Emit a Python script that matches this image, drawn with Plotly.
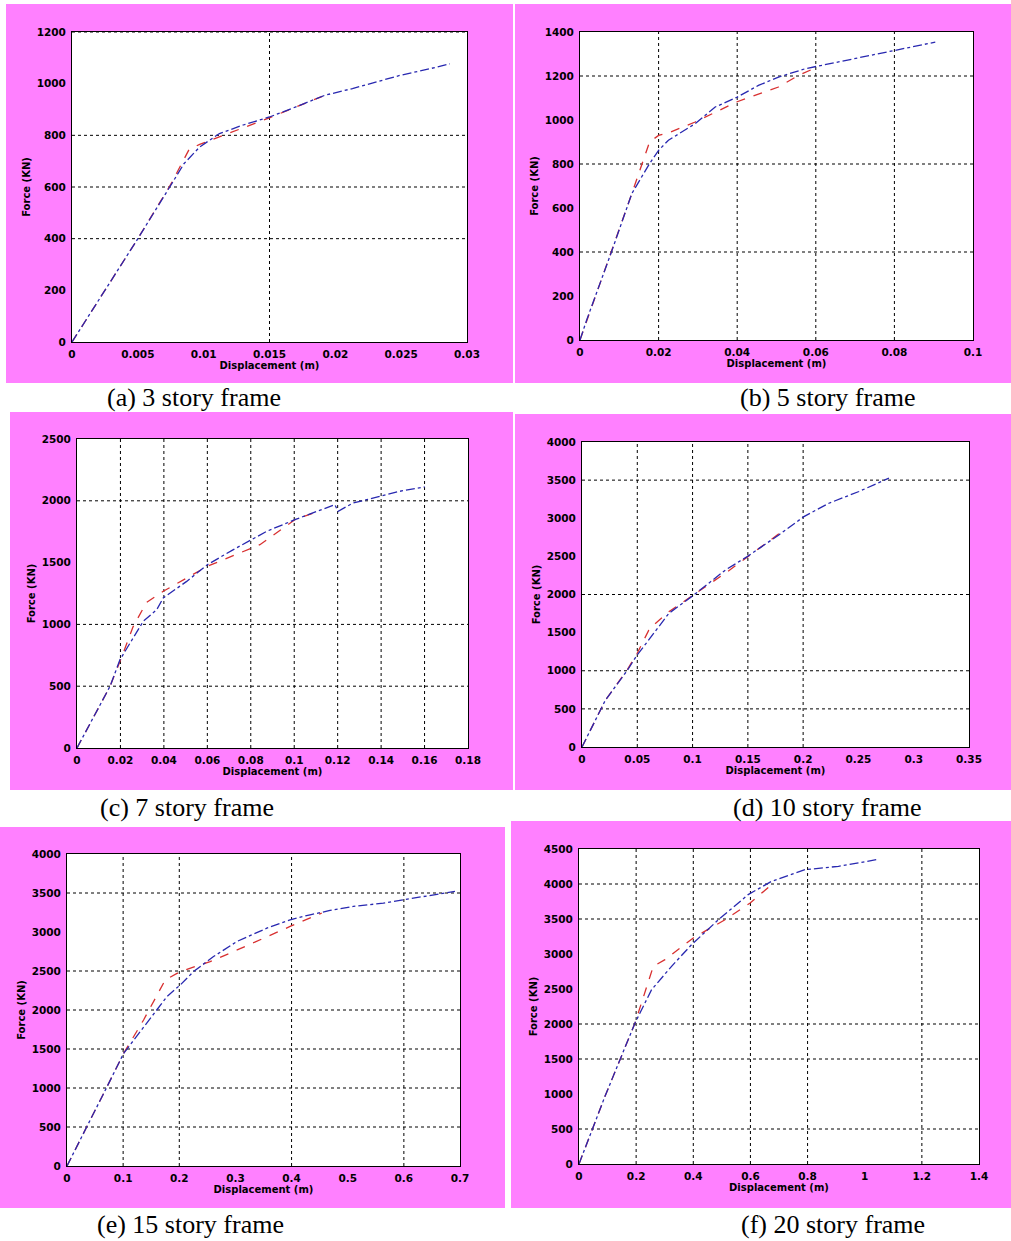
import plotly.graph_objects as go

W, H = 1011, 1241

# ---------------- DATA ----------------
captions = ["(a) 3 story frame", "(b) 5 story frame", "(c) 7 story frame",
            "(d) 10 story frame", "(e) 15 story frame", "(f) 20 story frame"]

# (a) 3 story
a_blue_x = [0, 0.0025, 0.005, 0.0074, 0.0085, 0.0097, 0.0112, 0.013, 0.015, 0.017, 0.0192, 0.0213, 0.0226, 0.0249, 0.0272, 0.0287]
a_blue_y = [0, 200, 400, 598, 690, 755, 807, 840, 871, 910, 955, 981, 1000, 1032, 1058, 1077]
a_red_x = [0, 0.0025, 0.005, 0.0075, 0.0089, 0.0097, 0.012, 0.015, 0.0192]
a_red_y = [0, 200, 400, 610, 746, 765, 810, 868, 955]
a_xticks = [0, 0.005, 0.01, 0.015, 0.02, 0.025, 0.03]
a_xlabels = ["0", "0.005", "0.01", "0.015", "0.02", "0.025", "0.03"]
a_yticks = [0, 200, 400, 600, 800, 1000, 1200]
a_gridx = [0.015]
a_gridy = [400, 600, 800, 1200]

# (b) 5 story
b_blue_x = [0, 0.0017, 0.008, 0.0132, 0.0177, 0.02, 0.0225, 0.0293, 0.0344, 0.04, 0.0454, 0.0505, 0.0573, 0.0675, 0.0794, 0.0904]
b_blue_y = [0, 91, 400, 666, 802, 862, 908, 983, 1059, 1104, 1157, 1195, 1233, 1271, 1316, 1354]
b_red_x = [0, 0.008, 0.0132, 0.0177, 0.02, 0.023, 0.0293, 0.04, 0.0505, 0.0556, 0.0603]
b_red_y = [0, 400, 666, 900, 930, 945, 991, 1083, 1150, 1203, 1240]
b_xticks = [0, 0.02, 0.04, 0.06, 0.08, 0.1]
b_xlabels = ["0", "0.02", "0.04", "0.06", "0.08", "0.1"]
b_yticks = [0, 200, 400, 600, 800, 1000, 1200, 1400]
b_gridx = [0.02, 0.04, 0.06, 0.08]
b_gridy = [400, 800, 1200]

# (c) 7 story
c_blue_x = [0, 0.0152, 0.0198, 0.0275, 0.0305, 0.0367, 0.0397, 0.0505, 0.06, 0.072, 0.0873, 0.1003, 0.1087, 0.1187, 0.1202, 0.1271, 0.1333, 0.1394, 0.1486, 0.1601]
c_blue_y = [0, 499, 715, 944, 1025, 1119, 1214, 1348, 1483, 1605, 1753, 1847, 1901, 1969, 1915, 1982, 2009, 2036, 2077, 2112]
c_red_x = [0, 0.0152, 0.0198, 0.0259, 0.032, 0.0397, 0.0505, 0.06, 0.0842, 0.1003, 0.1087]
c_red_y = [0, 499, 701, 984, 1178, 1268, 1375, 1470, 1645, 1847, 1901]
c_xticks = [0, 0.02, 0.04, 0.06, 0.08, 0.1, 0.12, 0.14, 0.16, 0.18]
c_xlabels = ["0", "0.02", "0.04", "0.06", "0.08", "0.1", "0.12", "0.14", "0.16", "0.18"]
c_yticks = [0, 500, 1000, 1500, 2000, 2500]
c_gridx = [0.02, 0.04, 0.06, 0.08, 0.1, 0.12, 0.14, 0.16]
c_gridy = [500, 1000, 2000]

# (d) 10 story
d_blue_x = [0, 0.0211, 0.0407, 0.0498, 0.0694, 0.0785, 0.1011, 0.1297, 0.1494, 0.178, 0.2007, 0.2233, 0.2505, 0.2776]
d_blue_y = [0, 613, 1000, 1204, 1577, 1752, 1993, 2321, 2497, 2781, 3022, 3197, 3351, 3526]
d_red_x = [0, 0.0211, 0.0407, 0.0498, 0.0604, 0.0664, 0.0785, 0.1011, 0.1297, 0.1494, 0.184]
d_red_y = [0, 613, 1007, 1226, 1533, 1621, 1774, 1993, 2280, 2490, 2860]
d_xticks = [0, 0.05, 0.1, 0.15, 0.2, 0.25, 0.3, 0.35]
d_xlabels = ["0", "0.05", "0.1", "0.15", "0.2", "0.25", "0.3", "0.35"]
d_yticks = [0, 500, 1000, 1500, 2000, 2500, 3000, 3500, 4000]
d_gridx = [0.05, 0.1, 0.15, 0.2]
d_gridy = [500, 1000, 2000, 3500]

# (e) 15 story
e_blue_x = [0, 0.0386, 0.0712, 0.1008, 0.1364, 0.1779, 0.2017, 0.2254, 0.261, 0.3025, 0.3559, 0.3974, 0.433, 0.4686, 0.51, 0.5635, 0.599, 0.6524, 0.691]
e_blue_y = [0, 544, 1015, 1443, 1786, 2171, 2321, 2493, 2685, 2878, 3049, 3156, 3221, 3276, 3328, 3370, 3413, 3478, 3520]
e_red_x = [0, 0.0386, 0.0712, 0.1008, 0.1364, 0.175, 0.2017, 0.255, 0.2966, 0.3974, 0.4537]
e_red_y = [0, 544, 1015, 1443, 1872, 2385, 2493, 2621, 2749, 3071, 3242]
e_xticks = [0, 0.1, 0.2, 0.3, 0.4, 0.5, 0.6, 0.7]
e_xlabels = ["0", "0.1", "0.2", "0.3", "0.4", "0.5", "0.6", "0.7"]
e_yticks = [0, 500, 1000, 1500, 2000, 2500, 3000, 3500, 4000]
e_gridx = [0.1, 0.2, 0.4, 0.6]
e_gridy = [500, 1000, 1500, 2000, 2500, 3500]

# (f) 20 story
f_blue_x = [0, 0.091, 0.196, 0.254, 0.324, 0.394, 0.488, 0.592, 0.674, 0.791, 0.908, 0.978, 1.042]
f_blue_y = [0, 967, 2014, 2490, 2824, 3133, 3490, 3848, 4038, 4205, 4252, 4300, 4348]
f_red_x = [0, 0.091, 0.196, 0.26, 0.301, 0.4, 0.511, 0.599, 0.674]
f_red_y = [0, 967, 2014, 2824, 2919, 3229, 3490, 3729, 3990]
f_xticks = [0, 0.2, 0.4, 0.6, 0.8, 1.0, 1.2, 1.4]
f_xlabels = ["0", "0.2", "0.4", "0.6", "0.8", "1", "1.2", "1.4"]
f_yticks = [0, 500, 1000, 1500, 2000, 2500, 3000, 3500, 4000, 4500]
f_gridx = [0.2, 0.4, 0.6, 0.8, 1.2]
f_gridy = [500, 1500, 2000, 3500, 4000]

panels = [
    dict(bx=a_blue_x, by=a_blue_y, rx=a_red_x, ry=a_red_y, xt=a_xticks, xl=a_xlabels, yt=a_yticks, gx=a_gridx, gy=a_gridy),
    dict(bx=b_blue_x, by=b_blue_y, rx=b_red_x, ry=b_red_y, xt=b_xticks, xl=b_xlabels, yt=b_yticks, gx=b_gridx, gy=b_gridy),
    dict(bx=c_blue_x, by=c_blue_y, rx=c_red_x, ry=c_red_y, xt=c_xticks, xl=c_xlabels, yt=c_yticks, gx=c_gridx, gy=c_gridy),
    dict(bx=d_blue_x, by=d_blue_y, rx=d_red_x, ry=d_red_y, xt=d_xticks, xl=d_xlabels, yt=d_yticks, gx=d_gridx, gy=d_gridy),
    dict(bx=e_blue_x, by=e_blue_y, rx=e_red_x, ry=e_red_y, xt=e_xticks, xl=e_xlabels, yt=e_yticks, gx=e_gridx, gy=e_gridy),
    dict(bx=f_blue_x, by=f_blue_y, rx=f_red_x, ry=f_red_y, xt=f_xticks, xl=f_xlabels, yt=f_yticks, gx=f_gridx, gy=f_gridy),
]

# ---------------- LAYOUT GEOMETRY (pixels) ----------------
plot_px = [(72, 467, 32, 342), (580, 973, 32, 340), (77, 468, 439, 748),
           (582, 969, 442, 747), (67, 460, 854, 1166), (579, 979, 849, 1164)]
pink_px = [(6, 513, 4, 383), (515, 1011, 4, 383), (10, 513, 412, 790),
           (515, 1011, 414, 790), (0, 505, 827, 1208), (511, 1011, 821, 1208)]
cap_px = [(194, 398), (827, 398), (187, 807), (827, 807), (190, 1224), (833, 1224)]

PINK = "#FF80FF"
RED = "#D83030"
BLUE = "#2828B0"
tickfont = dict(family="DejaVu Sans", size=10.5, color="black", weight="bold")
titlefont = dict(family="DejaVu Sans", size=10, color="black", weight="bold")

def px2paper_x(p):
    return p / W

def px2paper_y(p):
    return 1 - p / H

fig = go.Figure()
shapes = []
annotations = []
layout = {}

for i, (p, pp, pk, cp) in enumerate(zip(panels, plot_px, pink_px, cap_px)):
    n = i + 1
    xa = "x" if n == 1 else f"x{n}"
    ya = "y" if n == 1 else f"y{n}"
    xkey = "xaxis" if n == 1 else f"xaxis{n}"
    ykey = "yaxis" if n == 1 else f"yaxis{n}"

    fig.add_trace(go.Scatter(x=p["rx"], y=p["ry"], mode="lines", xaxis=xa, yaxis=ya,
                             line=dict(color=RED, width=1.3, dash="dash"), showlegend=False))
    fig.add_trace(go.Scatter(x=p["bx"], y=p["by"], mode="lines", xaxis=xa, yaxis=ya,
                             line=dict(color=BLUE, width=1.3, dash="dashdot"), showlegend=False))

    x0, x1, y0, y1 = pp
    layout[xkey] = dict(
        domain=[px2paper_x(x0), px2paper_x(x1)], anchor=ya,
        range=[p["xt"][0], p["xt"][-1]], tickvals=p["xt"], ticktext=p["xl"],
        showgrid=False, zeroline=False, showline=True, linecolor="black", linewidth=1,
        mirror=True, ticks="", tickfont=tickfont, automargin=False,
        ticklabelstandoff=2,
        title=dict(text="Displacement (m)", font=titlefont, standoff=3),
    )
    layout[ykey] = dict(
        domain=[px2paper_y(y1), px2paper_y(y0)], anchor=xa,
        range=[p["yt"][0], p["yt"][-1]], tickvals=p["yt"],
        ticktext=[str(v) for v in p["yt"]],
        showgrid=False, zeroline=False, showline=True, linecolor="black", linewidth=1,
        mirror=True, ticks="", tickfont=tickfont, automargin=False,
        ticklabelstandoff=3,
        title=dict(text="Force (KN)", font=titlefont, standoff=4),
    )

    # pink panel background
    shapes.append(dict(type="rect", xref="paper", yref="paper", layer="below",
                       x0=px2paper_x(pk[0]), x1=px2paper_x(pk[1]),
                       y0=px2paper_y(pk[3]), y1=px2paper_y(pk[2]),
                       fillcolor=PINK, line=dict(width=0)))
    # white plot area
    shapes.append(dict(type="rect", xref=f"{xa} domain", yref=f"{ya} domain", layer="below",
                       x0=0, x1=1, y0=0, y1=1, fillcolor="white", line=dict(width=0)))
    # dotted grid lines
    for gx in p["gx"]:
        shapes.append(dict(type="line", xref=xa, yref=f"{ya} domain", layer="below",
                           x0=gx, x1=gx, y0=0, y1=1,
                           line=dict(color="black", width=1, dash="dot")))
    for gy in p["gy"]:
        shapes.append(dict(type="line", xref=f"{xa} domain", yref=ya, layer="below",
                           x0=0, x1=1, y0=gy, y1=gy,
                           line=dict(color="black", width=1, dash="dot")))

    annotations.append(dict(text=captions[i], xref="paper", yref="paper",
                            x=px2paper_x(cp[0]), y=px2paper_y(cp[1]),
                            xanchor="center", yanchor="middle", showarrow=False,
                            font=dict(family="Liberation Serif", size=26, color="black")))

fig.update_layout(
    width=W, height=H, margin=dict(l=0, r=0, t=0, b=0),
    paper_bgcolor="white", plot_bgcolor="rgba(0,0,0,0)",
    shapes=shapes, annotations=annotations, showlegend=False,
    **layout,
)

fig.write_html("out.html", config={"displayModeBar": False},
               post_script="document.body.style.margin='0';document.body.style.overflow='hidden';")
